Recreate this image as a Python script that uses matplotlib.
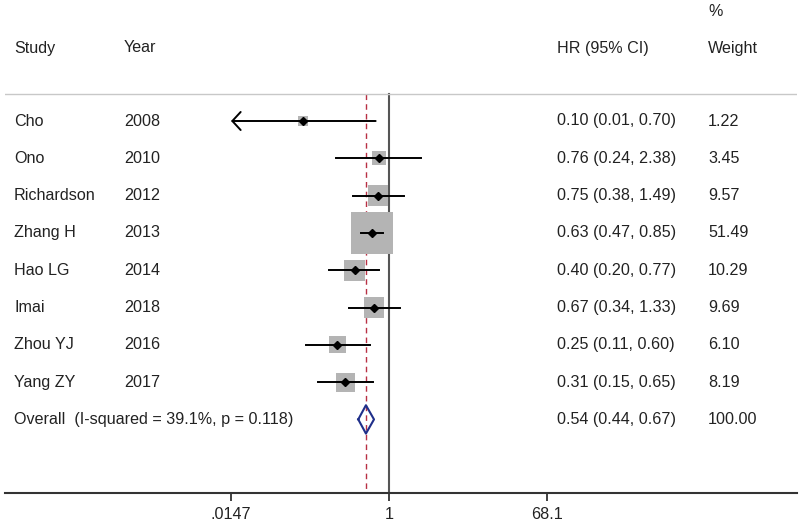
import numpy as np
import matplotlib.pyplot as plt
from matplotlib.transforms import blended_transform_factory

# data
studies = ["Cho", "Ono", "Richardson", "Zhang H", "Hao LG", "Imai", "Zhou YJ", "Yang ZY"]
years = ["2008", "2010", "2012", "2013", "2014", "2018", "2016", "2017"]
hr = [0.10, 0.76, 0.75, 0.63, 0.40, 0.67, 0.25, 0.31]
lo = [0.01, 0.24, 0.38, 0.47, 0.20, 0.34, 0.11, 0.15]
hi = [0.70, 2.38, 1.49, 0.85, 0.77, 1.33, 0.60, 0.65]
weights = [1.22, 3.45, 9.57, 51.49, 10.29, 9.69, 6.10, 8.19]
overall = (0.54, 0.44, 0.67)
overall_label = "Overall  (I-squared = 39.1%, p = 0.118)"
xticks = [0.0147, 1, 68.1]
xticklabels = [".0147", "1", "68.1"]

plt.rcParams['font.family'] = ['Liberation Sans', 'DejaVu Sans']

W, H = 800, 524
fig = plt.figure(figsize=(W / 100, H / 100), dpi=100)

# axes from x=5..797 px, y=0..493 px (top down)
ax = fig.add_axes([5 / W, 1 - 493 / H, 792 / W, 493 / H])
ax.set_xscale("log")
px_per_ln = 158 / np.log(1 / 0.0147)
ax.set_xlim(np.exp((5 - 389) / px_per_ln), np.exp((797 - 389) / px_per_ln))
row_px = 37.3
ax.set_ylim(372 / row_px, -121 / row_px)

for s in ["top", "left", "right"]:
    ax.spines[s].set_visible(False)
ax.spines["bottom"].set_color("#333333")
ax.spines["bottom"].set_linewidth(1.5)
ax.set_yticks([])
ax.set_xticks(xticks)
ax.set_xticklabels(xticklabels)
ax.xaxis.set_minor_locator(plt.NullLocator())
ax.tick_params(axis="x", length=6, width=1.3, color="#333333", labelsize=11.6,
               labelcolor="#222222", pad=4)

sep_y = -27 / row_px
bottom_y = 372 / row_px

# header separator
ax.axhline(sep_y, color="#c8c8c8", lw=1)

# reference lines
ax.plot([1, 1], [sep_y, bottom_y], color="#555555", lw=1.5, zorder=1)
ax.plot([overall[0], overall[0]], [sep_y, bottom_y], color="#b83044", lw=1,
        dashes=(4, 3), zorder=1)

# studies
xmin_plot = xticks[0]
for i in range(len(studies)):
    side_pt = (5.3 * np.sqrt(weights[i]) + 4) * 0.72
    ax.scatter(hr[i], i, marker="s", s=side_pt ** 2, color="#b4b4b4",
               edgecolors="none", zorder=2)
    if lo[i] < xmin_plot:
        ax.annotate("", xy=(xmin_plot, i), xytext=(hi[i], i),
                    arrowprops=dict(arrowstyle="->,head_length=0.6,head_width=0.65",
                                    color="black", lw=1.4, shrinkA=0, shrinkB=0),
                    zorder=3)
    else:
        ax.plot([lo[i], hi[i]], [i, i], color="black", lw=1.4, zorder=3)
    ax.plot(hr[i], i, marker="D", ms=4, color="black", zorder=4)

# overall diamond
oy = len(studies)
dh = 0.38
ax.plot([overall[1], overall[0], overall[2], overall[0], overall[1]],
        [oy, oy - dh, oy, oy + dh, oy], color="#1f2f8a", lw=1.5, zorder=4)

# text columns
tr = blended_transform_factory(fig.transFigure, ax.transData)
fs = 11.6
tc = "#222222"
x_study, x_year, x_hr, x_wt = 14 / W, 124 / W, 557 / W, 708 / W
hdr_y = -73 / row_px
pct_y = -109 / row_px
ax.text(x_study, hdr_y, "Study", transform=tr, fontsize=fs, color=tc, va="center")
ax.text(x_year, hdr_y, "Year", transform=tr, fontsize=fs, color=tc, va="center")
ax.text(x_hr, hdr_y, "HR (95% CI)", transform=tr, fontsize=fs, color=tc, va="center")
ax.text(x_wt, hdr_y, "Weight", transform=tr, fontsize=fs, color=tc, va="center")
ax.text(x_wt, pct_y, "%", transform=tr, fontsize=fs, color=tc, va="center")

for i in range(len(studies)):
    ax.text(x_study, i, studies[i], transform=tr, fontsize=fs, color=tc, va="center")
    ax.text(x_year, i, years[i], transform=tr, fontsize=fs, color=tc, va="center")
    ax.text(x_hr, i, f"{hr[i]:.2f} ({lo[i]:.2f}, {hi[i]:.2f})", transform=tr,
            fontsize=fs, color=tc, va="center")
    ax.text(x_wt, i, f"{weights[i]:.2f}", transform=tr, fontsize=fs, color=tc, va="center")

ax.text(x_study, oy, overall_label, transform=tr, fontsize=fs, color=tc, va="center")
ax.text(x_hr, oy, f"{overall[0]:.2f} ({overall[1]:.2f}, {overall[2]:.2f})",
        transform=tr, fontsize=fs, color=tc, va="center")
ax.text(x_wt, oy, "100.00", transform=tr, fontsize=fs, color=tc, va="center")

fig.savefig("out.png", dpi=100)
